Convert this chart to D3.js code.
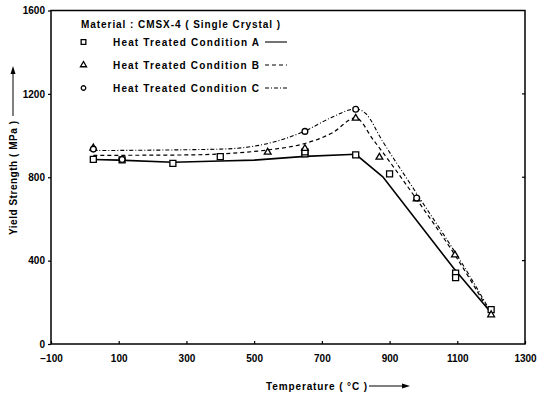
<!DOCTYPE html>
<html><head><meta charset="utf-8">
<script src="https://cdn.jsdelivr.net/npm/d3@7"></script>
<style>
html,body{margin:0;padding:0;background:#fff;}
text{font-family:"Liberation Sans",Arial,sans-serif;font-weight:bold;fill:#000;}
</style></head>
<body><svg id="c" width="541" height="398"></svg>
<script>
// ---- data ----
const xTicks = [-100, 100, 300, 500, 700, 900, 1100, 1300];
const yTicks = [0, 400, 800, 1200, 1600];
// measured points (temperature °C, yield strength MPa)
const pointsA = [[25,886],[110,883],[260,867],[400,899],[650,912],[650,922],[800,907],[900,816],[1095,340],[1095,318],[1200,165]];
const pointsB = [[25,940],[540,920],[650,938],[800,1083],[870,896],[980,696],[1093,427],[1200,140]];
const pointsC = [[25,935],[110,885],[650,1020],[800,1126],[980,700]];
// fitted curves
const curveA = [[25,885],[100,882],[260,872],[400,878],[500,882],[650,900],[800,910],[880,802],[1090,362],[1200,150]];
const curveB = [[25,905],[300,907],[450,917],[550,933],[650,962],[730,1012],[800,1085],[852,979],[980,694],[1093,427],[1200,140]];
const curveC = [[25,928],[400,935],[530,958],[650,1022],[730,1088],[800,1128],[830,1105],[877,979],[980,722],[1132,339],[1200,150]];
const legendTitle = "Material : CMSX-4 ( Single Crystal )";
const legendLabels = ["Heat Treated Condition A","Heat Treated Condition B","Heat Treated Condition C"];

const svg = d3.select("#c");
const x = d3.scaleLinear().domain([-100,1300]).range([51,525]);
const y = d3.scaleLinear().domain([0,1600]).range([344,10.5]);

// frame
svg.append("rect").attr("x",x(-100)).attr("y",y(1600)).attr("width",x(1300)-x(-100)).attr("height",y(0)-y(1600))
  .attr("fill","none").attr("stroke","#000").attr("stroke-width",1.5);

// axes
const xAx = svg.append("g").attr("transform",`translate(0,${y(0)})`)
  .call(d3.axisBottom(x).tickValues(xTicks).tickSize(-3).tickPadding(10).tickFormat(d3.format("d")));
const yAx = svg.append("g").attr("transform",`translate(${x(-100)},0)`)
  .call(d3.axisLeft(y).tickValues(yTicks).tickSize(3).tickPadding(3).tickFormat(d3.format("d")));
[xAx,yAx].forEach(g=>{g.select(".domain").remove();g.selectAll("text").attr("font-size",10).attr("font-family","Liberation Sans, Arial").attr("font-weight","bold");g.selectAll("line").attr("stroke-width",1.2);});
xAx.selectAll("text").attr("dy","0.35em").attr("y",14);
// right inward ticks
svg.append("g").selectAll("line").data(yTicks.slice(1,-1)).join("line")
  .attr("x1",x(1300)).attr("x2",x(1300)-3).attr("y1",d=>y(d)).attr("y2",d=>y(d)).attr("stroke","#000").attr("stroke-width",1.2);

// lines
const line = d3.line().x(d=>x(d[0])).y(d=>y(d[1]));
svg.append("path").attr("d",line.curve(d3.curveLinear)(curveA)).attr("fill","none").attr("stroke","#000").attr("stroke-width",1.6);
svg.append("path").attr("d",line.curve(d3.curveMonotoneX)(curveB)).attr("fill","none").attr("stroke","#000").attr("stroke-width",1.2).attr("stroke-dasharray","4,3");
svg.append("path").attr("d",line.curve(d3.curveMonotoneX)(curveC)).attr("fill","none").attr("stroke","#000").attr("stroke-width",1.1).attr("stroke-dasharray","4,2,1,2");

// markers
const symSq = s => d3.symbol().type(d3.symbolSquare).size(s)();
const symTri = s => d3.symbol().type(d3.symbolTriangle).size(s)();
const symCir = s => d3.symbol().type(d3.symbolCircle).size(s)();
function marks(data, path){
  svg.append("g").selectAll("path").data(data).join("path")
    .attr("d",path).attr("transform",d=>`translate(${x(d[0])},${y(d[1])})`)
    .attr("fill","#fff").attr("stroke","#000").attr("stroke-width",1.3);
}
marks(pointsA, symSq(36)); marks(pointsB, symTri(20)); marks(pointsC, symCir(26));

// legend
svg.append("text").attr("x",81).attr("y",27.5).attr("font-size",10).attr("textLength",199).attr("lengthAdjust","spacing").text(legendTitle);
const rows = [42,65,88];
const syms = [symSq(22), symTri(16), symCir(16)];
const dashes = [null,"4,3","4,2,1,2"];
rows.forEach((ry,i)=>{
  svg.append("path").attr("d",syms[i]).attr("transform",`translate(83.5,${ry})`).attr("fill","#fff").attr("stroke","#000").attr("stroke-width",1.3);
  svg.append("text").attr("x",113).attr("y",ry+3.5).attr("font-size",10).attr("textLength",146).attr("lengthAdjust","spacing").text(legendLabels[i]);
  svg.append("line").attr("x1",265).attr("x2",287).attr("y1",ry).attr("y2",ry).attr("stroke","#000").attr("stroke-width",1.1).attr("stroke-dasharray",dashes[i]);
});

// axis titles
svg.append("text").attr("x",266).attr("y",390).attr("font-size",10).attr("textLength",101).attr("lengthAdjust","spacing").text("Temperature ( °C )");
svg.append("line").attr("x1",369).attr("x2",404).attr("y1",386).attr("y2",386).attr("stroke","#000").attr("stroke-width",1);
svg.append("path").attr("d","M410,386 L402,383.5 L402,388.5 Z").attr("fill","#000");
svg.append("text").attr("transform","translate(16.5,235) rotate(-90)").attr("font-size",10).attr("textLength",114).attr("lengthAdjust","spacing").text("Yield Strength ( MPa )");
svg.append("line").attr("x1",13).attr("x2",13).attr("y1",116).attr("y2",72).attr("stroke","#000").attr("stroke-width",1);
svg.append("path").attr("d","M13,66 L10.5,74 L15.5,74 Z").attr("fill","#000");
</script></body></html>
